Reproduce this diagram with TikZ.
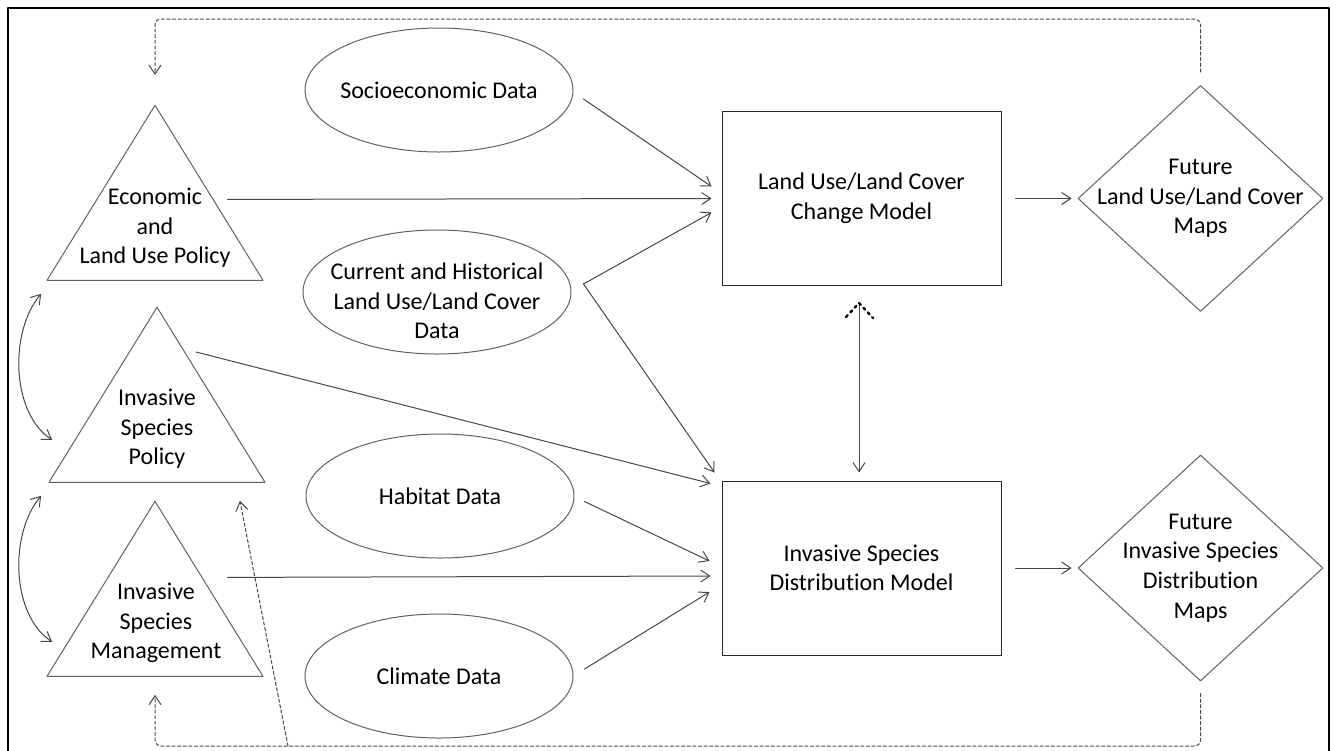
\documentclass[tikz,border=0pt]{standalone}
\usepackage{fontspec}
\setmainfont{Carlito}[Ligatures=NoCommon]
\usetikzlibrary{arrows.meta}
\usetikzlibrary{shapes.geometric}
\definecolor{linegray}{gray}{0.28}
\definecolor{shapegray}{gray}{0.38}

\begin{document}
\begin{tikzpicture}[x=0.5pt, y=-0.5pt, line cap=round, line join=round,
  every node/.style={font=\fontsize{12}{14.8}\selectfont},
  link/.style={draw=linegray, line width=0.5pt, -{Straight Barb[length=4.5pt,width=6pt]}},
  twoway/.style={link, {Straight Barb[length=4.5pt,width=6pt]}-{Straight Barb[length=4.5pt,width=6pt]}},
  feedback/.style={link, dash pattern=on 1.6pt off 1.2pt},
  datum/.style={ellipse, draw=shapegray, line width=0.5pt, minimum width=134pt, minimum height=62pt, inner sep=0pt},
  policy/.style={isosceles triangle, isosceles triangle stretches, shape border rotate=90, draw=shapegray, line width=0.5pt, minimum width=108pt, minimum height=87.5pt, inner sep=0pt, anchor=apex},
  model/.style={rectangle, draw=black!85, line width=0.5pt, minimum width=139.5pt, minimum height=87pt, align=center},
  outcome/.style={diamond, draw=shapegray, line width=0.5pt, minimum width=122.5pt, minimum height=113pt, inner sep=0pt},
  caption/.style={align=center, inner sep=0pt}]

\def\railtop{19}
\def\railbottom{746}

\useasboundingbox (0,0) rectangle (1336,750);
\draw[line width=1pt] (8,8) rectangle (1329,753);

% Policies on the left


\node[policy] (econ) at (155,104) {};
\node[caption] (econtxt) at (155,228) {Economic\\and\\Land Use Policy};

\node[policy] (pol) at (157,306) {};
\node[caption] (poltxt) at (157,429) {Invasive\\Species\\Policy};

\node[policy] (mgt) at (155,500) {};
\node[caption] (mgttxt) at (156,623) {Invasive\\Species\\Management};

\draw[twoway] ([shift={(-2.5pt,-6.5pt)}]econ.left corner) .. controls +(-32,38) and +(-41,-27) .. ([shift={(2pt,21.5pt)}]pol.left corner);
\draw[twoway] ([shift={(-3.5pt,-6.5pt)}]pol.left corner) .. controls +(-32,38) and +(-41,-27) .. ([shift={(3pt,17.5pt)}]mgt.left corner);

% Data sets


\node[datum, label={[caption]center:Socioeconomic Data}] (socio) at (439,90) {};
\node[datum, label={[caption, yshift=-4.5pt]center:{Current and Historical\\Land Use/Land Cover\\Data}}] (curr) at (437,292) {};
\node[datum, label={[caption]center:Habitat Data}] (hab) at (440,496) {};
\node[datum, label={[caption]center:Climate Data}] (clim) at (439,676) {};

% Models and maps


\node[model] (lulc) at (861.5,198.5) {Land Use/Land Cover\\Change Model};
\node[model] (isdm) at (861.5,568) {Invasive Species\\Distribution Model};

\node[outcome, label={[caption]center:{Future\\Land Use/Land Cover\\Maps}}] (lumap) at (1200.5,198.5) {};
\node[outcome, label={[caption]center:{Future\\Invasive Species\\Distribution\\Maps}}] (ismap) at (1200.5,568) {};

% Inputs of the land use model
\draw[link] ([shift={(5pt,-4.5pt)}]socio.east) -- ([shift={(-5pt,6pt)}]lulc.west);
\draw[link] ([shift={(9pt,-3.5pt)}]econ.right side) -- ([xshift=-5pt]lulc.west);
\draw[link] ([shift={(6pt,4pt)}]curr.east) coordinate (fork) -- ([shift={(-5pt,-7pt)}]lulc.west);

% Inputs of the distribution model
\draw[link] (fork) -- ([shift={(-3.5pt,4pt)}]isdm.north west);
\draw[link] ([shift={(19.5pt,-23pt)}]pol.apex) -- ([shift={(-5.5pt,-1.5pt)}]isdm.north west);
\draw[link] ([shift={(5pt,-2.75pt)}]hab.east) -- ([shift={(-6pt,3.5pt)}]isdm.west);
\draw[link] ([shift={(9pt,5.5pt)}]mgt.right side) -- ([shift={(-5.5pt,-4pt)}]isdm.west);
\draw[link] ([shift={(5.5pt,3.5pt)}]clim.east) -- ([shift={(-6pt,-12pt)}]isdm.west);

% Coupling of the two models
\draw[link] ([shift={(-1.25pt,-8.5pt)}]lulc.south) coordinate (uptip) -- ([shift={(-1.25pt,4pt)}]isdm.north);
\draw[dotted, line width=1.2pt] ([shift={(-6.5pt,-7pt)}]uptip) -- (uptip) -- ([shift={(7pt,-7.5pt)}]uptip);

\draw[link] ([xshift=7pt]lulc.east) -- ([xshift=-3pt]lumap.west);
\draw[link] ([xshift=7pt]isdm.east) -- ([xshift=-3pt]ismap.west);

% Feedback to the policies
\coordinate (northrail) at (0,\railtop);
\coordinate (southrail) at (0,\railbottom);
\coordinate (branch) at (288,\railbottom);

\draw[feedback, rounded corners=3pt] ([yshift=6.5pt]lumap.north) |- (northrail -| econ.apex) -- ([yshift=14.5pt]econ.apex);
\draw[feedback, rounded corners=3pt] ([yshift=-6pt]ismap.south) |- (southrail -| mgt.apex) -- ([yshift=-9pt]mgt.lower side);
\draw[feedback] (branch) -- ([shift={(-13pt,-9pt)}]pol.right corner);

\end{tikzpicture}
\end{document}
